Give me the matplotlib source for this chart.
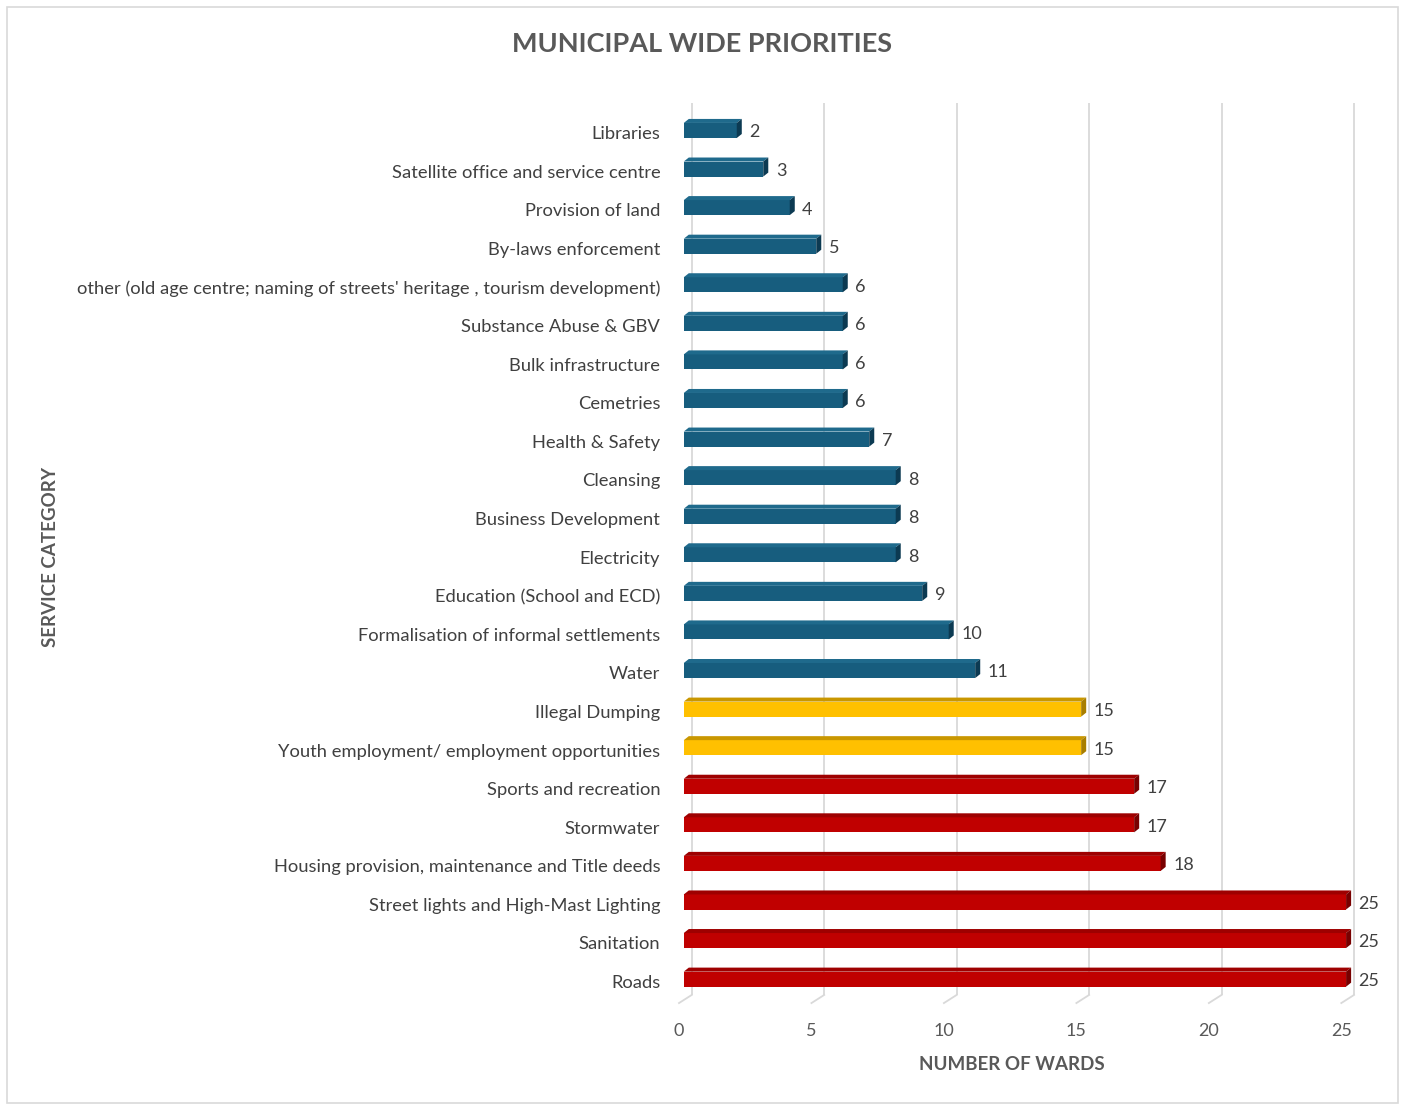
"""
Municipal wide priorities - horizontal pseudo-3D bar chart
"""

import matplotlib.pyplot as plt
from matplotlib.patches import Polygon, Rectangle

categories = [
    "Libraries",
    "Satellite office and service centre",
    "Provision of land",
    "By-laws enforcement",
    "other (old age centre; naming of streets' heritage , tourism development)",
    "Substance Abuse & GBV",
    "Bulk infrastructure",
    "Cemetries",
    "Health & Safety",
    "Cleansing",
    "Business Development",
    "Electricity",
    "Education (School and ECD)",
    "Formalisation of informal settlements",
    "Water",
    "Illegal Dumping",
    "Youth employment/ employment opportunities",
    "Sports and recreation",
    "Stormwater",
    "Housing provision, maintenance and Title deeds",
    "Street lights and High-Mast Lighting",
    "Sanitation",
    "Roads",
]
wards = [2, 3, 4, 5, 6, 6, 6, 6, 7, 8, 8, 8, 9, 10, 11, 15, 15, 17, 17, 18, 25, 25, 25]
xticks = [0, 5, 10, 15, 20, 25]

plt.rcParams["font.family"] = ["Lato", "DejaVu Sans"]

# front / top / side colours per priority tier
BLUE = ("#175D7E", "#1F6A8C", "#0C3A52")
YELLOW = ("#FFC000", "#C99700", "#A87E00")
RED = ("#C00000", "#9E0000", "#780000")


def tier(v):
    if v >= 17:
        return RED
    if v >= 15:
        return YELLOW
    return BLUE


fig = plt.figure(figsize=(14.05, 11.06), dpi=100)
fig.patches.append(Rectangle((0.005, 0.003), 0.990, 0.991, transform=fig.transFigure,
                             fill=False, edgecolor="#D9D9D9", linewidth=1.2))

ax = fig.add_axes([679 / 1405, 0.1004, 0.4861, 0.8065])
ymin, ymax = -0.713, 22.41
ax.set_xlim(0, 25.6)
ax.set_ylim(ymax, ymin)

h = 0.39      # front face height
dx = 0.19     # depth offset in x
dy = 0.104    # depth offset in y
gdx = 0.3     # back wall offset for gridlines

# back gridlines and floor ticks
for t in xticks:
    ax.plot([t + gdx, t + gdx], [ymin, ymax], color="#D9D9D9", lw=1.3, zorder=0)
    ax.plot([t + gdx, t - 0.18], [ymax, ymax + 0.21], color="#D9D9D9", lw=1.3,
            zorder=0, clip_on=False)

for i, v in enumerate(wards):
    front, top, side = tier(v)
    y0 = i - h / 2
    y1 = i + h / 2
    ax.add_patch(Rectangle((0, y0), v, h, facecolor=front, edgecolor="none", zorder=3))
    ax.add_patch(Polygon([(0, y0), (dx, y0 - dy), (v + dx, y0 - dy), (v, y0)],
                         closed=True, facecolor=top, edgecolor="none", zorder=3))
    ax.add_patch(Polygon([(v, y0), (v + dx, y0 - dy), (v + dx, y1 - dy), (v, y1)],
                         closed=True, facecolor=side, edgecolor="none", zorder=3))
    ax.text(v + dx + 0.28, i + 0.05, str(v), va="center", ha="left",
            fontsize=13, color="#404040", zorder=4)

ax.set_yticks([i + 0.06 for i in range(len(categories))])
ax.set_yticklabels(categories, fontsize=13.2, color="#404040")
ax.tick_params(axis="y", length=0, pad=13.5)

ax.set_xticks([t - 0.18 for t in xticks])
ax.set_xticklabels([str(t) for t in xticks], fontsize=13, color="#595959")
ax.tick_params(axis="x", length=0, pad=20)

for s in ax.spines.values():
    s.set_visible(False)

fig.text(0.5, 1 - 44 / 1106, "MUNICIPAL WIDE PRIORITIES", ha="center", va="center",
         fontsize=19.5, fontweight="bold", color="#595959")
fig.text(1012 / 1405, 1 - 1064 / 1106, "NUMBER OF WARDS", ha="center", va="center",
         fontsize=13.5, fontweight="bold", color="#595959")
fig.text(50 / 1405, 1 - 557 / 1106, "SERVICE CATEGORY", ha="center", va="center",
         rotation=90, fontsize=13.5, fontweight="bold", color="#595959")

plt.savefig("out.png", dpi=100)
